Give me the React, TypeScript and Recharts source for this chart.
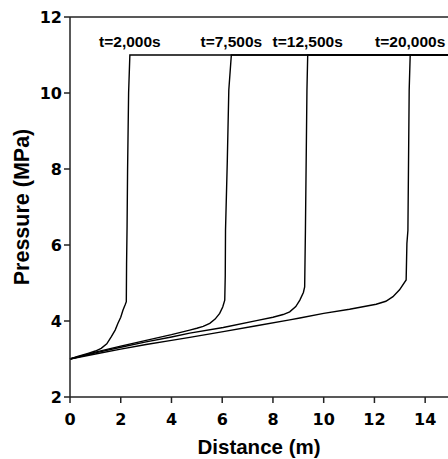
import { LineChart, Line, XAxis, YAxis, ReferenceLine, ReferenceDot } from 'recharts';

// distance (m) and pressure (MPa), one pair per time step
const DIST_2000 = [0, 0.3, 0.71, 1.0, 1.23, 1.45, 1.63, 1.78, 1.89, 2.0, 2.09, 2.17, 2.22, 2.23, 2.25, 2.27, 2.31, 2.36, 14.9];
const PRES_2000 = [3.0, 3.07, 3.15, 3.21, 3.28, 3.4, 3.59, 3.76, 3.94, 4.1, 4.29, 4.42, 4.51, 5.5, 6.5, 8.0, 10.0, 11.0, 11.0];

const DIST_7500 = [0, 1.0, 2.0, 3.0, 4.0, 4.72, 5.0, 5.25, 5.51, 5.72, 5.9, 6.02, 6.1, 6.12, 6.13, 6.2, 6.26, 6.36, 14.9];
const PRES_7500 = [3.0, 3.18, 3.34, 3.49, 3.64, 3.76, 3.81, 3.86, 3.94, 4.05, 4.2, 4.37, 4.55, 5.2, 6.39, 8.2, 10.08, 11.0, 11.0];

const DIST_12500 = [0, 1, 2, 3, 4, 4.72, 6.04, 7.35, 8.0, 8.4, 8.66, 8.9, 9.06, 9.2, 9.25, 9.28, 9.34, 9.37, 14.9];
const PRES_12500 = [3.0, 3.16, 3.31, 3.45, 3.58, 3.68, 3.83, 4.01, 4.1, 4.17, 4.24, 4.38, 4.55, 4.75, 4.9, 6.39, 10.08, 11.0, 11.0];

const DIST_20000 = [0, 1, 2, 3, 4, 4.72, 6.04, 7.35, 8.66, 9.06, 10.0, 11.02, 12.07, 12.45, 12.73, 12.99, 13.25, 13.28, 13.32, 13.37, 13.41, 14.9];
const PRES_20000 = [3.0, 3.13, 3.26, 3.38, 3.49, 3.57, 3.72, 3.875, 4.03, 4.08, 4.2, 4.31, 4.44, 4.52, 4.64, 4.82, 5.08, 6.04, 6.39, 10.08, 11.0, 11.0];

const TIME_LABELS = ['t=2,000s', 't=7,500s', 't=12,500s', 't=20,000s'];
const X_TICKS = [0, 2, 4, 6, 8, 10, 12, 14];
const Y_TICKS = [2, 4, 6, 8, 10, 12];

const toPoints = (xs: number[], ys: number[]) => xs.map((x, i) => ({ x, p: ys[i] }));

const SERIES = [
  toPoints(DIST_2000, PRES_2000),
  toPoints(DIST_7500, PRES_7500),
  toPoints(DIST_12500, PRES_12500),
  toPoints(DIST_20000, PRES_20000),
];

// label sits above the point where each front reaches the 11 MPa plateau
const labelAnchor = (pts: { x: number; p: number }[]) => pts[pts.length - 2];

const tickFont = { fontFamily: 'DejaVu Sans', fontWeight: 'bold', fontSize: 16, fill: '#000' };
const titleFont = { fontFamily: 'Liberation Sans, Arial, sans-serif', fontWeight: 'bold', fill: '#000' };

export default function App() {
  return (
    <div style={{ position: 'absolute', left: 0, top: 0, width: 448, height: 459, background: '#fff' }}>
      <LineChart width={448} height={459} margin={{ top: 17, right: 0, bottom: 0, left: 0 }}>
        <XAxis
          type="number"
          dataKey="x"
          domain={[0, 14.9]}
          ticks={X_TICKS}
          height={62}
          tickSize={6}
          tickMargin={11}
          stroke="#222"
          strokeWidth={1.5}
          tick={tickFont}
          label={{ value: 'Distance (m)', position: 'insideBottom', offset: 5, style: { ...titleFont, fontSize: 20.5 } }}
        />
        <YAxis
          type="number"
          dataKey="p"
          domain={[2, 12]}
          ticks={Y_TICKS}
          width={70}
          tickSize={6}
          tickMargin={2}
          stroke="#222"
          strokeWidth={1.5}
          tick={tickFont}
          label={{
            value: 'Pressure (MPa)',
            angle: -90,
            position: 'insideLeft',
            offset: 21,
            style: { ...titleFont, fontSize: 21.5, textAnchor: 'middle' },
          }}
        />
        <ReferenceLine y={12} stroke="#222" strokeWidth={1.5} />
        {SERIES.map((pts, i) => (
          <Line
            key={TIME_LABELS[i]}
            data={pts}
            dataKey="p"
            type="linear"
            stroke="#000"
            strokeWidth={1.4}
            dot={false}
            isAnimationActive={false}
          />
        ))}
        {SERIES.map((pts, i) => (
          <ReferenceDot
            key={'lbl' + i}
            x={labelAnchor(pts).x}
            y={labelAnchor(pts).p}
            r={0}
            stroke="none"
            fill="none"
            label={{
              value: TIME_LABELS[i],
              position: 'top',
              offset: 8,
              style: { ...titleFont, fontSize: 15.5 },
            }}
          />
        ))}
      </LineChart>
    </div>
  );
}
